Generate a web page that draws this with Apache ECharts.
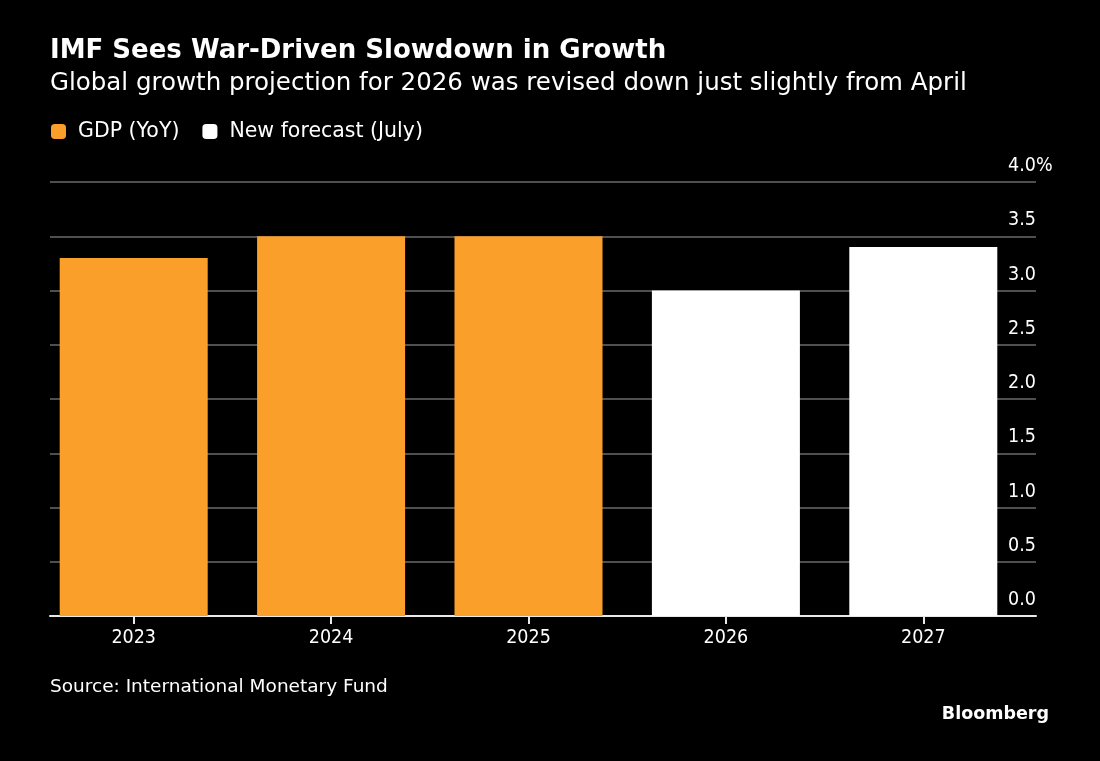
<!DOCTYPE html>
<html>
<head>
<meta charset="utf-8">
<script src="https://cdn.jsdelivr.net/npm/echarts@6/dist/echarts.min.js"></script>
<style>
  html, body { margin: 0; padding: 0; background: #000; }
  #chart { width: 1100px; height: 761px; }
</style>
</head>
<body>
<div id="chart"></div>
<script>
// chart data
const years = ['2023', '2024', '2025', '2026', '2027'];
const gdpActual = [3.3, 3.5, 3.5, '-', '-'];
const gdpForecast = ['-', '-', '-', 3.0, 3.4];
const yTicks = [0, 0.5, 1, 1.5, 2, 2.5, 3, 3.5, 4];

const WIDE = '"DejaVu Sans", sans-serif';
const NARROW = '"DejaVu Sans Condensed", "DejaVu Sans", sans-serif';
const ORANGE = '#fb9f2b';

const chart = echarts.init(document.getElementById('chart'));

const option = {
    backgroundColor: '#000',
    animation: false,
    title: [
        {
            text: 'IMF Sees War-Driven Slowdown in Growth',
            left: 50, top: 38, padding: 0,
            textStyle: { color: '#fff', fontFamily: WIDE, fontWeight: 'bold', fontSize: 26 }
        },
        {
            text: 'Global growth projection for 2026 was revised down just slightly from April',
            left: 50, top: 71, padding: 0,
            textStyle: { color: '#fff', fontFamily: WIDE, fontWeight: 'normal', fontSize: 24.5 }
        },
        {
            text: 'Source: International Monetary Fund',
            left: 50, top: 678, padding: 0,
            textStyle: { color: '#fff', fontFamily: WIDE, fontWeight: 'normal', fontSize: 18.5 }
        },
        {
            text: 'Bloomberg',
            right: 51, top: 705, padding: 0,
            textStyle: { color: '#fff', fontFamily: WIDE, fontWeight: 'bold', fontSize: 17.5 }
        }
    ],
    legend: {
        left: 51, top: 121, padding: 0,
        itemWidth: 15, itemHeight: 15,
        itemGap: 23,
        icon: 'roundRect',
        textStyle: { color: '#fff', fontFamily: WIDE, fontSize: 20.5, padding: [0, 0, 0, 7] },
        data: ['GDP (YoY)', 'New forecast (July)']
    },
    grid: [
        // gridlines and baseline
        { left: 50, right: 64, top: 182, bottom: 145 },
        // bars, offset to the left like the original
        { left: 35, right: 78, top: 182, bottom: 145 }
    ],
    xAxis: [
        {
            type: 'category', gridIndex: 0, data: years,
            axisLine: { show: true, lineStyle: { color: '#e8e8e8', width: 2 } },
            axisTick: { show: false },
            axisLabel: { show: false }
        },
        {
            type: 'category', gridIndex: 1, data: years,
            axisLine: { show: false },
            axisTick: { show: true, alignWithLabel: true, length: 8, lineStyle: { color: '#e8e8e8', width: 2 } },
            axisLabel: { color: '#fff', fontFamily: NARROW, fontSize: 19.5, margin: 12 }
        }
    ],
    yAxis: [
        {
            type: 'value', gridIndex: 0, position: 'right',
            min: 0, max: 4, interval: 0.5,
            axisLine: { show: false }, axisTick: { show: false },
            splitLine: { show: true, lineStyle: { color: '#6a6a6a', width: 1.5 } },
            axisLabel: {
                inside: true, align: 'left', verticalAlign: 'bottom', margin: 28,
                padding: [0, 0, 6, 0],
                color: '#fff', fontFamily: NARROW, fontSize: 19.5,
                formatter: v => v === yTicks[yTicks.length - 1] ? v.toFixed(1) + '%' : v.toFixed(1)
            }
        },
        {
            type: 'value', gridIndex: 1, min: 0, max: 4, interval: 0.5,
            show: false
        }
    ],
    series: [
        {
            name: 'GDP (YoY)', type: 'bar', xAxisIndex: 1, yAxisIndex: 1,
            data: gdpActual, barWidth: 148, barGap: '-100%',
            itemStyle: { color: ORANGE }
        },
        {
            name: 'New forecast (July)', type: 'bar', xAxisIndex: 1, yAxisIndex: 1,
            data: gdpForecast, barWidth: 148, barGap: '-100%',
            itemStyle: { color: '#fff' }
        }
    ]
};

chart.setOption(option);
</script>
</body>
</html>
